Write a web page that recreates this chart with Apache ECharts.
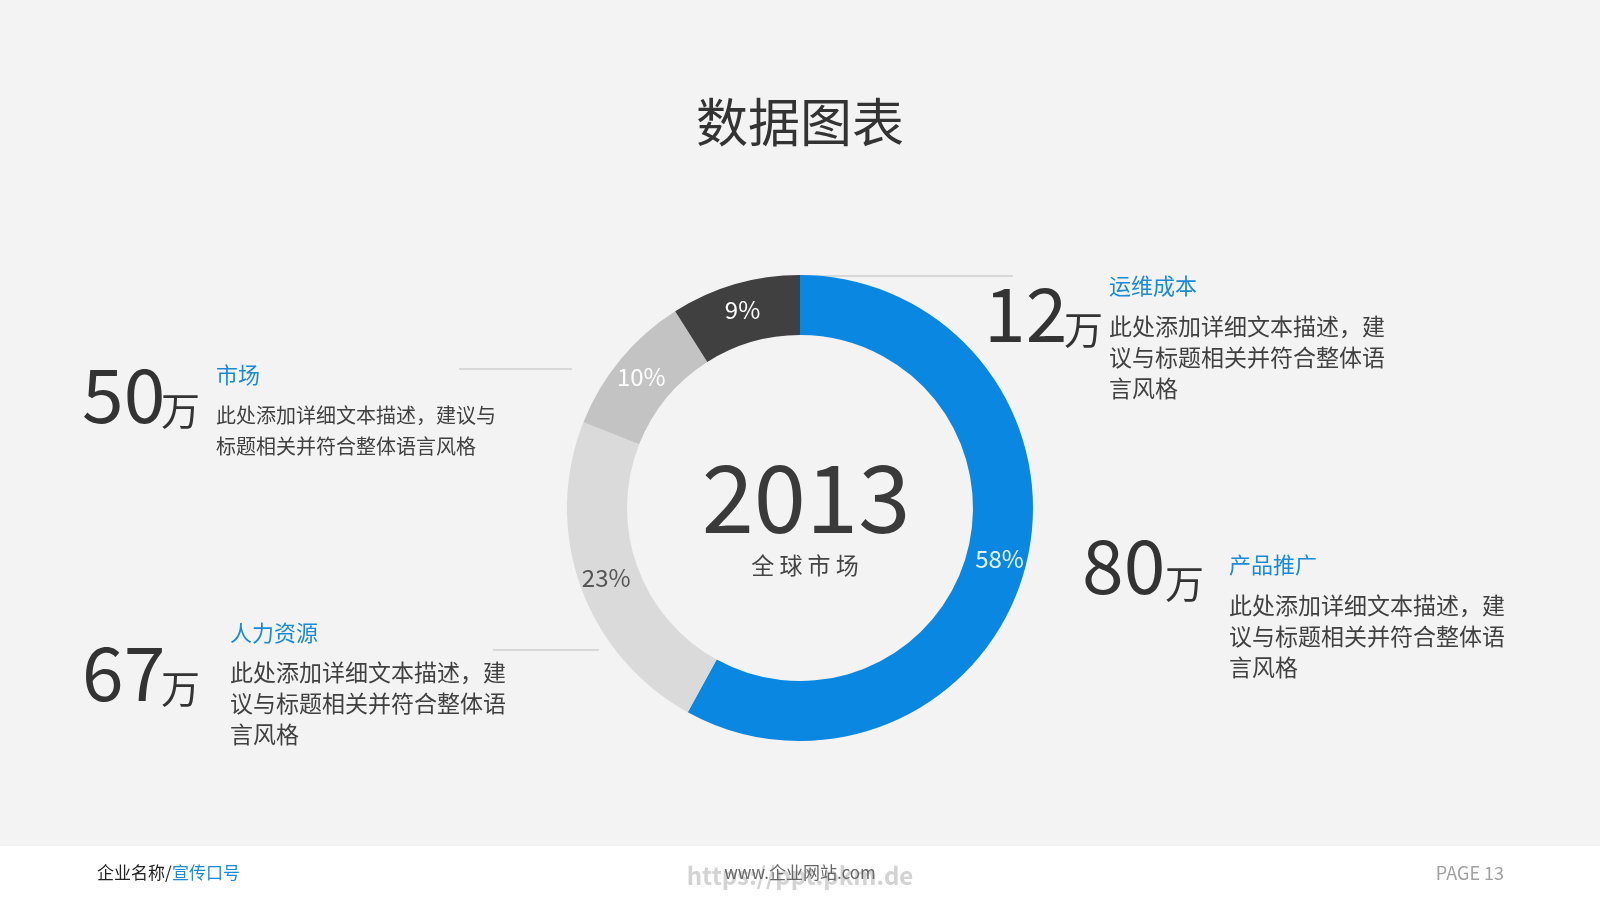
<!DOCTYPE html>
<html>
	<head>
		<meta charset="UTF-8">
		<title>数据图表</title>
		<style>
			html, body { margin: 0; padding: 0; background: #f3f3f3; }
			#chart { width: 1600px; height: 900px; }
		</style>
	</head>
	<body>
		<div id="chart"></div>
		<script type="text/javascript" src="https://cdn.jsdelivr.net/npm/echarts@6/dist/echarts.min.js"></script>
		<script>
			// 数据：环形图各部分占比（从12点方向顺时针）
			var categories = ['产品推广', '人力资源', '市场', '运维成本'];
			var shares = [58, 23, 10, 9];
			// 各部分金额（万）
			var amounts = [80, 67, 50, 12];
			var year = '2013';
			var centerCaption = '全球市场';

			var FONT = "'Noto Sans CJK SC', 'Noto Sans', sans-serif";
			var BLUE = '#0a87e0';
			var ringColors = [BLUE, '#dadada', '#c3c3c3', '#404040'];
			var labelColors = ['#e3f2fd', '#555555', '#ffffff', '#ffffff'];

			var chart = echarts.init(document.getElementById('chart'));

			// 说明文字的排版位置（与数据顺序一致）
			var layout = [
				{ numX: 1082, numY: 565, unitX: 1165, unitY: 583, headX: 1229, headY: 565, descX: 1229, descY: 590, fs: 23, lh: 31,
				  desc: '此处添加详细文本描述，建\n议与标题相关并符合整体语\n言风格' },
				{ numX: 82, numY: 672, unitX: 161, unitY: 688, headX: 230, headY: 633, descX: 230, descY: 657, fs: 23, lh: 31,
				  desc: '此处添加详细文本描述，建\n议与标题相关并符合整体语\n言风格' },
				{ numX: 82, numY: 394, unitX: 161, unitY: 410, headX: 216, headY: 375, descX: 216, descY: 400, fs: 20, lh: 31,
				  desc: '此处添加详细文本描述，建议与\n标题相关并符合整体语言风格' },
				{ numX: 984, numY: 313, unitX: 1064, unitY: 329, headX: 1109, headY: 286, descX: 1109, descY: 311, fs: 23, lh: 31,
				  desc: '此处添加详细文本描述，建\n议与标题相关并符合整体语\n言风格' }
			];

			var graphics = [];

			// 底部白色页脚
			graphics.push({ type: 'rect', z: 0, shape: { x: 0, y: 846, width: 1600, height: 54 }, style: { fill: '#ffffff' } });

			// 引导线
			var guideLines = [[815, 276, 1013, 276], [459, 369, 572, 369], [493, 650, 599, 650]];
			guideLines.forEach(function (l) {
				graphics.push({ type: 'line', z: 0, shape: { x1: l[0], y1: l[1], x2: l[2], y2: l[3] }, style: { stroke: '#cfcfcf', lineWidth: 1.5 } });
			});

			// 标题
			graphics.push({ type: 'text', x: 800, y: 122, style: { text: '数据图表', font: '52px ' + FONT, fill: '#333333', textAlign: 'center', textVerticalAlign: 'middle' } });

			// 中心文字
			graphics.push({ type: 'text', x: 806, y: 497, style: { text: year, font: '94px ' + FONT, fill: '#3a3a3a', textAlign: 'center', textVerticalAlign: 'middle' } });
			graphics.push({ type: 'text', x: 805, y: 565, style: { text: centerCaption.split('').join(' '), font: '23px ' + FONT, fill: '#444444', textAlign: 'center', textVerticalAlign: 'middle' } });

			// 四组说明
			categories.forEach(function (name, i) {
				var p = layout[i];
				graphics.push({ type: 'text', x: p.numX, y: p.numY, style: { text: String(amounts[i]), font: '75px ' + FONT, fill: '#333333', textVerticalAlign: 'middle' } });
				graphics.push({ type: 'text', x: p.unitX, y: p.unitY, style: { text: '万', font: '39px ' + FONT, fill: '#333333', textVerticalAlign: 'middle' } });
				graphics.push({ type: 'text', x: p.headX, y: p.headY, style: { text: name, font: '22px ' + FONT, fill: '#1b8ad6', textVerticalAlign: 'middle' } });
				graphics.push({ type: 'text', x: p.descX, y: p.descY, style: { text: p.desc, font: p.fs + 'px ' + FONT, lineHeight: p.lh, fill: '#404040', textVerticalAlign: 'top' } });
			});

			// 页脚文字
			graphics.push({ type: 'text', x: 97, y: 873, style: { text: '企业名称/', font: '17px ' + FONT, fill: '#222222', textVerticalAlign: 'middle' } });
			graphics.push({ type: 'text', x: 172, y: 873, style: { text: '宣传口号', font: '17px ' + FONT, fill: '#1b8ad6', textVerticalAlign: 'middle' } });
			graphics.push({ type: 'text', x: 800, y: 876, style: { text: 'https://ppt.pkm.de', font: 'bold 24px ' + FONT, fill: '#d3d3d3', textAlign: 'center', textVerticalAlign: 'middle' } });
			graphics.push({ type: 'text', x: 800, y: 873, style: { text: 'www.企业网站.com', font: '17px ' + FONT, fill: '#666666', textAlign: 'center', textVerticalAlign: 'middle' } });
			graphics.push({ type: 'text', x: 1504, y: 873, style: { text: 'PAGE 13', font: '18px ' + FONT, fill: '#a0a0a0', textAlign: 'right', textVerticalAlign: 'middle' } });

			var pieData = categories.map(function (name, i) {
				return {
					name: name,
					value: shares[i],
					itemStyle: { color: ringColors[i] },
					label: { color: labelColors[i] }
				};
			});

			var option = {
				backgroundColor: '#f3f3f3',
				animation: false,
				graphic: { elements: graphics },
				series: [{
					type: 'pie',
					z: 2,
					center: [800, 508],
					radius: [173, 233],
					startAngle: 90,
					clockwise: true,
					silent: true,
					itemStyle: { borderWidth: 0 },
					label: {
						show: true,
						position: 'inside',
						formatter: '{c}%',
						fontFamily: FONT,
						fontSize: 24
					},
					labelLine: { show: false },
					data: pieData
				}]
			};

			chart.setOption(option);
		</script>
	</body>
</html>
